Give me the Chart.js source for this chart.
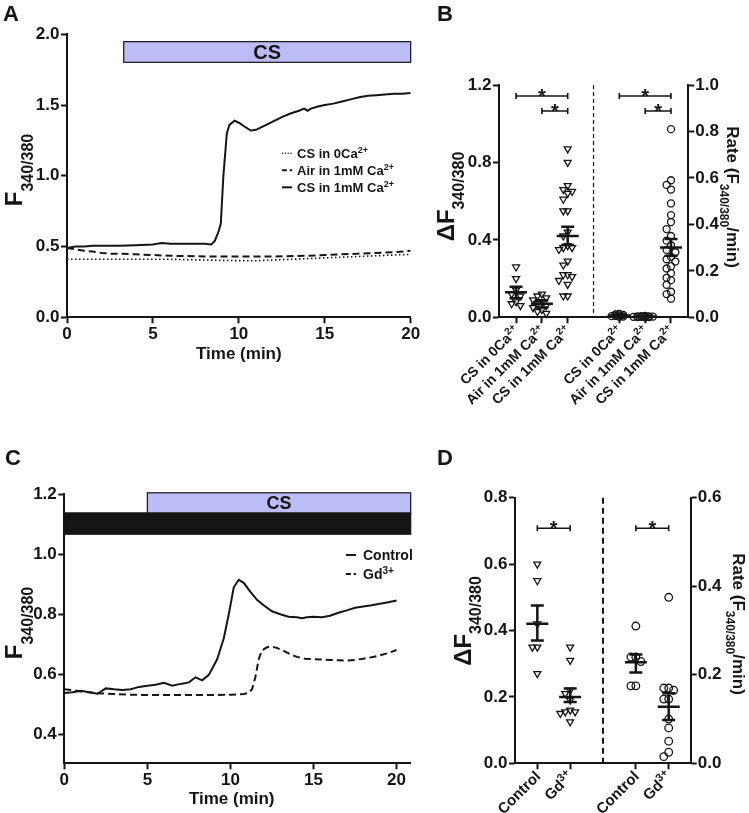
<!DOCTYPE html>
<html>
<head>
<meta charset="utf-8">
<script src="https://cdn.jsdelivr.net/npm/chart.js@4.4.1/dist/chart.umd.min.js"></script>
<style>
  html, body { margin: 0; padding: 0; background: #fff; }
  #fig { position: relative; width: 749px; height: 813px; overflow: hidden; }
  #fig canvas { position: absolute; }
</style>
</head>
<body>
<div id="fig">
  <canvas id="chartA" width="430" height="400" style="left:0;top:0"></canvas>
  <canvas id="chartB" width="329" height="420" style="left:420px;top:0"></canvas>
  <canvas id="chartC" width="430" height="413" style="left:0;top:400px"></canvas>
  <canvas id="chartD" width="329" height="413" style="left:420px;top:400px"></canvas>
</div>
<script>
// ---- Panel A: F340/380 traces (time in min)
const timeA_cs0 = [0, 2, 4, 6, 8, 10, 11, 12, 13, 14, 15, 16, 17, 18, 19, 20];
const ratioA_cs0 = [0.41, 0.41, 0.41, 0.41, 0.405, 0.40, 0.40, 0.405, 0.41, 0.415, 0.42, 0.425, 0.43, 0.435, 0.44, 0.445];
const timeA_air = [0, 0.5, 1, 1.5, 2, 2.5, 3, 4, 5, 6, 8, 10, 12, 14, 15, 16, 17, 18, 19, 20];
const ratioA_air = [0.49, 0.48, 0.47, 0.465, 0.455, 0.45, 0.45, 0.445, 0.44, 0.435, 0.43, 0.43, 0.43, 0.435, 0.44, 0.445, 0.45, 0.455, 0.46, 0.47];
const timeA_cs1 = [0, 0.5, 1, 1.5, 2, 3, 4, 5, 5.5, 6, 7, 8, 8.4, 8.6, 8.8, 8.95, 9.1, 9.3, 9.45, 9.75, 10, 10.3, 10.7, 11, 11.5, 12, 12.5, 13, 13.5, 13.8, 14, 14.2, 14.6, 15, 15.5, 16, 16.5, 17, 17.5, 18, 18.5, 19, 19.5, 20];
const ratioA_cs1 = [0.49, 0.50, 0.50, 0.505, 0.505, 0.505, 0.51, 0.515, 0.525, 0.52, 0.52, 0.52, 0.515, 0.54, 0.60, 0.66, 1.0, 1.30, 1.36, 1.39, 1.375, 1.35, 1.32, 1.325, 1.355, 1.385, 1.415, 1.44, 1.46, 1.475, 1.46, 1.475, 1.49, 1.50, 1.51, 1.525, 1.54, 1.555, 1.565, 1.57, 1.575, 1.58, 1.58, 1.585];
const legendA = ['CS in 0Ca^{2+}', 'Air in 1mM Ca^{2+}', 'CS in 1mM Ca^{2+}'];
const ticksAX = [0, 5, 10, 15, 20];
const ticksAY = [0, 0.5, 1.0, 1.5, 2.0];
const csWindowA = [3.3, 20];

// ---- Panel B: individual cells
const catsB = ['CS in 0Ca^{2+}', 'Air in 1mM Ca^{2+}', 'CS in 1mM Ca^{2+}'];
const dfB_cs0 = [0.26, 0.20, 0.14, 0.12, 0.11, 0.08, 0.07, 0.06];
const dfB_air = [0.12, 0.11, 0.10, 0.09, 0.08, 0.07, 0.06, 0.05, 0.04, 0.03, 0.02];
const dfB_cs1 = [0.87, 0.80, 0.68, 0.66, 0.65, 0.64, 0.61, 0.55, 0.55, 0.44, 0.42, 0.37, 0.36, 0.36, 0.35, 0.29, 0.27, 0.22, 0.22, 0.21, 0.19, 0.17, 0.11, 0.11];
const rateB_cs0 = [0.015, 0.012, 0.01, 0.008, 0.006, 0.005, 0.003, 0.002];
const rateB_air = [0.006, 0.005, 0.004, 0.004, 0.003, 0.003, 0.002, 0.002, 0.001, 0.001, 0.0];
const rateB_cs1 = [0.81, 0.59, 0.57, 0.55, 0.49, 0.44, 0.41, 0.38, 0.35, 0.33, 0.31, 0.29, 0.28, 0.26, 0.25, 0.24, 0.22, 0.21, 0.19, 0.17, 0.16, 0.14, 0.11, 0.10, 0.08];
const meanDfB = [0.13, 0.07, 0.42];
const semHiDfB = [0.158, 0.088, 0.468];
const semLoDfB = [0.098, 0.05, 0.374];
const meanRateB = [0.008, 0.003, 0.30];
const semHiRateB = [0.01, 0.004, 0.337];
const semLoRateB = [0.006, 0.002, 0.265];
const ticksBY = [0, 0.4, 0.8, 1.2];
const ticksBY2 = [0, 0.2, 0.4, 0.6, 0.8, 1.0];

// ---- Panel C: Gd3+ traces
const timeC_ctrl = [0, 0.5, 1, 1.5, 2, 2.5, 3, 3.5, 4, 4.5, 5, 5.5, 6, 6.5, 7, 7.5, 7.9, 8.3, 8.7, 9.2, 9.6, 9.9, 10.2, 10.5, 10.8, 11.2, 11.6, 12, 12.5, 13, 13.5, 14, 14.3, 14.6, 15, 15.5, 16, 16.5, 17, 17.5, 18, 18.5, 19, 19.5, 20];
const ratioC_ctrl = [0.538, 0.54, 0.545, 0.54, 0.535, 0.553, 0.55, 0.548, 0.55, 0.558, 0.562, 0.565, 0.572, 0.562, 0.568, 0.573, 0.59, 0.58, 0.598, 0.65, 0.72, 0.80, 0.89, 0.915, 0.905, 0.875, 0.848, 0.83, 0.81, 0.80, 0.792, 0.79, 0.787, 0.79, 0.792, 0.79, 0.795, 0.805, 0.813, 0.822, 0.826, 0.83, 0.835, 0.84, 0.846];
const timeC_gd = [0, 0.5, 1, 1.5, 2, 3, 4, 5, 6, 7, 8, 9, 10, 10.8, 11.1, 11.3, 11.5, 11.7, 11.9, 12.2, 12.5, 12.8, 13.2, 13.6, 14, 14.5, 15, 15.5, 16, 16.5, 17, 17.5, 18, 18.5, 19, 19.5, 20];
const ratioC_gd = [0.55, 0.547, 0.543, 0.54, 0.537, 0.534, 0.532, 0.531, 0.531, 0.531, 0.531, 0.531, 0.532, 0.534, 0.538, 0.55, 0.59, 0.65, 0.68, 0.69, 0.692, 0.688, 0.678, 0.667, 0.658, 0.652, 0.65, 0.649, 0.648, 0.647, 0.646, 0.648, 0.652, 0.657, 0.663, 0.671, 0.681];
const legendC = ['Control', 'Gd^{3+}'];
const ticksCX = [0, 5, 10, 15, 20];
const ticksCY = [0.4, 0.6, 0.8, 1.0, 1.2];
const csWindowC = [5, 20.85];

// ---- Panel D: individual cells
const catsD = ['Control', 'Gd^{3+}'];
const dfD_ctrl = [0.60, 0.55, 0.42, 0.35, 0.35, 0.27];
const dfD_gd = [0.35, 0.31, 0.22, 0.21, 0.19, 0.16, 0.155, 0.155, 0.15, 0.125];
const rateD_ctrl = [0.31, 0.24, 0.24, 0.23, 0.175, 0.175];
const rateD_gd = [0.375, 0.17, 0.17, 0.165, 0.145, 0.145, 0.1, 0.08, 0.05, 0.025, 0.015];
const meanDfD = [0.42, 0.20];
const semHiDfD = [0.475, 0.225];
const semLoDfD = [0.37, 0.185];
const meanRateD = [0.228, 0.128];
const semHiRateD = [0.246, 0.158];
const semLoRateD = [0.205, 0.098];
const ticksDY = [0, 0.2, 0.4, 0.6, 0.8];
const ticksDY2 = [0, 0.2, 0.4, 0.6];

const INK = '#151515';
const LAV = '#bcbcf6';
const FONT = "'Liberation Sans', Arial, Helvetica, sans-serif";
Chart.defaults.font.family = FONT;
Chart.defaults.color = INK;

const pts = (xs, ys) => xs.map((x, i) => ({ x, y: ys[i] }));

// spread overlapping dots sideways
function swarm(center, vals, gap, step) {
    const placed = [];
    return vals.map(v => {
        let k = 0;
        for (const c of [0, -1, 1, -2, 2, -3, 3, -4, 4]) {
            if (!placed.some(p => p.k === c && Math.abs(p.y - v) < gap)) { k = c; break; }
        }
        placed.push({ k, y: v });
        return { x: center + k * step, y: v };
    });
}

// text with ^{sup} and _{sub}
function segs(str) {
    const out = [];
    const re = /([\^_])\{([^}]*)\}/g;
    let last = 0, m;
    while ((m = re.exec(str))) {
        if (m.index > last) out.push({ t: str.slice(last, m.index), k: 'n' });
        out.push({ t: m[2], k: m[1] === '^' ? 'sup' : 'sub' });
        last = re.lastIndex;
    }
    if (last < str.length) out.push({ t: str.slice(last), k: 'n' });
    return out;
}

function rich(ctx, str, x, y, o) {
    const size = o.size, small = o.small || Math.round(size * 0.68);
    const parts = segs(str).map(p => {
        const sz = p.k === 'n' ? size : small;
        ctx.font = `bold ${sz}px ${FONT}`;
        return { ...p, sz, w: ctx.measureText(p.t).width };
    });
    const total = parts.reduce((s, p) => s + p.w, 0);
    let cx = o.align === 'center' ? -total / 2 : o.align === 'right' ? -total : 0;
    ctx.save();
    ctx.translate(x, y);
    if (o.rot) ctx.rotate(o.rot);
    ctx.fillStyle = INK;
    ctx.textBaseline = 'alphabetic';
    ctx.textAlign = 'left';
    for (const p of parts) {
        ctx.font = `bold ${p.sz}px ${FONT}`;
        const dy = p.k === 'sub' ? (o.subDy ?? size * 0.4) : p.k === 'sup' ? -(o.supDy ?? size * 0.4) : 0;
        ctx.fillText(p.t, cx, dy);
        cx += p.w;
    }
    ctx.restore();
}

function linAxis(o) {
    return {
        type: 'linear', position: o.position, min: o.min, max: o.max,
        afterBuildTicks: s => { s.ticks = o.ticks.map(v => ({ value: v })); },
        afterFit: s => {
            if (o.width != null) s.width = o.width;
            if (o.height != null) s.height = o.height;
            s.paddingLeft = s.paddingRight = s.paddingTop = s.paddingBottom = 0;
        },
        ticks: {
            display: o.labels !== false, padding: o.pad ?? 1.5, color: INK,
            font: { size: 17, weight: 'bold' },
            callback: o.fmt || (v => v.toFixed(1))
        },
        grid: { drawOnChartArea: false, drawTicks: true, tickLength: 6, tickWidth: 2, tickColor: INK },
        border: { display: true, color: INK, width: 2 }
    };
}

function baseOptions(pad, scales) {
    return {
        responsive: false, animation: false, devicePixelRatio: 1, events: [],
        layout: { padding: pad },
        plugins: { legend: { display: false }, tooltip: { enabled: false } },
        scales
    };
}

function stimBar(ctx, x, y, t0, t1, v0, v1, fill, label, size) {
    const px0 = x.getPixelForValue(t0), px1 = x.getPixelForValue(t1);
    const py0 = y.getPixelForValue(v1), py1 = y.getPixelForValue(v0);
    ctx.save();
    ctx.fillStyle = fill;
    ctx.fillRect(px0, py0, px1 - px0, py1 - py0);
    ctx.strokeStyle = INK;
    ctx.lineWidth = 1.2;
    ctx.strokeRect(px0, py0, px1 - px0, py1 - py0);
    ctx.restore();
    if (label) rich(ctx, label, (px0 + px1) / 2, (py0 + py1) / 2 + size * 0.36, { size, align: 'center' });
}

function legendRows(ctx, datasets, labels, x0, y0, dy, size, gapText) {
    labels.forEach((lab, i) => {
        const ds = datasets[i], yy = y0 + i * dy;
        ctx.save();
        ctx.strokeStyle = INK;
        ctx.lineWidth = ds.borderWidth;
        ctx.setLineDash((ds.borderDash || []).map(d => d * 0.7));
        ctx.beginPath();
        ctx.moveTo(x0, yy - size * 0.36);
        ctx.lineTo(x0 + 10, yy - size * 0.36);
        ctx.stroke();
        ctx.restore();
        rich(ctx, lab, x0 + gapText, yy, { size, small: Math.round(size * 0.7), supDy: size * 0.38 });
    });
}

function traceSet(xs, ys, dash, width) {
    return {
        data: pts(xs, ys), showLine: true, pointRadius: 0, borderColor: INK,
        borderWidth: width, borderDash: dash, tension: 0, fill: false
    };
}

// means, SEM, divider, brackets, rotated category labels
function dotExtras(c) {
    return {
        id: 'dotExtras',
        afterDraw(chart) {
            const { ctx, chartArea: a, scales } = chart;
            const x = scales.x;
            ctx.save();
            ctx.strokeStyle = INK;
            ctx.lineWidth = c.divWidth;
            ctx.setLineDash(c.divDash);
            const dx = x.getPixelForValue(c.divider);
            ctx.beginPath(); ctx.moveTo(dx, a.top); ctx.lineTo(dx, a.bottom); ctx.stroke();
            ctx.setLineDash([]);
            ctx.lineWidth = 2.5;
            c.pos.forEach((p, i) => {
                const y = scales[c.axes[i]];
                const px = x.getPixelForValue(p);
                const m = y.getPixelForValue(c.mean[i]), hi = y.getPixelForValue(c.hi[i]), lo = y.getPixelForValue(c.lo[i]);
                ctx.beginPath();
                ctx.moveTo(px - 11, m); ctx.lineTo(px + 11, m);
                ctx.moveTo(px, hi); ctx.lineTo(px, lo);
                ctx.moveTo(px - 6.5, hi); ctx.lineTo(px + 6.5, hi);
                ctx.moveTo(px - 6.5, lo); ctx.lineTo(px + 6.5, lo);
                ctx.stroke();
            });
            ctx.lineWidth = 1.6;
            c.sigFrom.forEach((f, i) => {
                const x0 = x.getPixelForValue(f), x1 = x.getPixelForValue(c.sigTo[i]);
                const yb = scales.y.getPixelForValue(c.sigY[i]);
                ctx.beginPath();
                ctx.moveTo(x0, yb); ctx.lineTo(x1, yb);
                ctx.moveTo(x0, yb - 3); ctx.lineTo(x0, yb + 3);
                ctx.moveTo(x1, yb - 3); ctx.lineTo(x1, yb + 3);
                ctx.stroke();
                rich(ctx, '*', (x0 + x1) / 2, yb + 7, { size: 20, align: 'center' });
            });
            ctx.restore();
            c.pos.forEach((p, i) => {
                rich(ctx, c.labels[i], x.getPixelForValue(p) + 4, a.bottom + 14,
                    { size: c.labelSize, small: Math.round(c.labelSize * 0.7), supDy: c.labelSize * 0.38, align: 'right', rot: -Math.PI / 4 });
            });
            rich(ctx, 'ΔF_{340/380}', c.leftTitle[0], c.leftTitle[1], { size: 24, small: 16, subDy: 10, align: 'center', rot: -Math.PI / 2 });
            rich(ctx, 'Rate (F_{340/380}/min)', c.rightTitle[0], c.rightTitle[1], { size: 17, small: 12, subDy: 7, align: 'center', rot: Math.PI / 2 });
            rich(ctx, c.letter, 17, c.letterY, { size: 22 });
        }
    };
}

function dotSet(data, axis, style, r) {
    return {
        data, yAxisID: axis, pointStyle: style, rotation: style === 'triangle' ? 180 : 0,
        pointRadius: r, borderWidth: 1.3, borderColor: INK, backgroundColor: 'rgba(0,0,0,0)',
        showLine: false, clip: false
    };
}

// ---- A
new Chart(document.getElementById('chartA'), {
    type: 'scatter',
    data: {
        datasets: [
            traceSet(timeA_cs0, ratioA_cs0, [1.5, 2.5], 1.6),
            traceSet(timeA_air, ratioA_air, [7, 4], 2),
            traceSet(timeA_cs1, ratioA_cs1, [], 2)
        ]
    },
    options: baseOptions({ left: 0, top: 34.3, right: 19.3, bottom: 0 }, {
        x: linAxis({ position: 'bottom', min: 0, max: 20, ticks: ticksAX, height: 82.7, pad: 1, fmt: v => String(v) }),
        y: linAxis({ position: 'left', min: 0, max: 2, ticks: ticksAY, width: 67 })
    }),
    plugins: [{
        id: 'extrasA',
        afterDraw(chart) {
            const { ctx, chartArea: a, scales: { x, y } } = chart;
            stimBar(ctx, x, y, csWindowA[0], csWindowA[1], 1.802, 1.948, LAV, 'CS', 20);
            legendRows(ctx, chart.data.datasets, legendA, 282, 158, 17, 13, 15);
            rich(ctx, 'Time (min)', (a.left + a.right) / 2, a.bottom + 42, { size: 17, align: 'center' });
            rich(ctx, 'F_{340/380}', 22, 170, { size: 24, small: 16, subDy: 11, align: 'center', rot: -Math.PI / 2 });
            rich(ctx, 'A', 3, 21, { size: 22 });
        }
    }]
});

// ---- B
const posB = [1, 2, 3, 5, 6, 7];
new Chart(document.getElementById('chartB'), {
    type: 'scatter',
    data: {
        datasets: [
            dotSet(swarm(1, dfB_cs0, 0.035, 0.17), 'y', 'triangle', 4),
            dotSet(swarm(2, dfB_air, 0.035, 0.17), 'y', 'triangle', 4),
            dotSet(swarm(3, dfB_cs1, 0.035, 0.17), 'y', 'triangle', 4),
            dotSet(swarm(5, rateB_cs0, 0.006, 0.15), 'y2', 'circle', 3.5),
            dotSet(swarm(6, rateB_air, 0.003, 0.15), 'y2', 'circle', 3.5),
            dotSet(swarm(7, rateB_cs1, 0.03, 0.17), 'y2', 'circle', 3.5)
        ]
    },
    options: baseOptions({ left: 0, top: 85, right: 0, bottom: 0 }, {
        x: linAxis({ position: 'bottom', min: 0.34, max: 7.67, ticks: posB, height: 102.7, labels: false }),
        y: linAxis({ position: 'left', min: 0, max: 1.2, ticks: ticksBY, width: 79 }),
        y2: linAxis({ position: 'right', min: 0, max: 1.0, ticks: ticksBY2, width: 60.7, pad: 1 })
    }),
    plugins: [dotExtras({
        pos: posB, axes: ['y', 'y', 'y', 'y2', 'y2', 'y2'],
        mean: [...meanDfB, ...meanRateB], hi: [...semHiDfB, ...semHiRateB], lo: [...semLoDfB, ...semLoRateB],
        divider: 4, divDash: [4, 3], divWidth: 1.2,
        sigFrom: [1, 2, 5, 6], sigTo: [3, 3, 7, 7], sigY: [1.143, 1.066, 1.143, 1.066],
        labels: [...catsB, ...catsB], labelSize: 14,
        leftTitle: [34, 196.5], rightTitle: [307, 197], letter: 'B', letterY: 21
    })]
});

// ---- C
new Chart(document.getElementById('chartC'), {
    type: 'scatter',
    data: {
        datasets: [
            traceSet(timeC_ctrl, ratioC_ctrl, [], 2),
            traceSet(timeC_gd, ratioC_gd, [7, 4], 2)
        ]
    },
    options: baseOptions({ left: 0, top: 94.3, right: 19.3, bottom: 0 }, {
        x: linAxis({ position: 'bottom', min: 0, max: 20.85, ticks: ticksCX, height: 49.7, pad: 1, fmt: v => String(v) }),
        y: linAxis({ position: 'left', min: 0.3033, max: 1.2, ticks: ticksCY, width: 64.3 })
    }),
    plugins: [{
        id: 'extrasC',
        afterDraw(chart) {
            const { ctx, chartArea: a, scales: { x, y } } = chart;
            stimBar(ctx, x, y, 0, 20.85, 1.067, 1.138, INK, null, 0);
            stimBar(ctx, x, y, csWindowC[0], csWindowC[1], 1.138, 1.205, LAV, 'CS', 18);
            legendRows(ctx, chart.data.datasets, legendC, 346, 160, 19, 14, 17);
            rich(ctx, 'Time (min)', 231.7, a.bottom + 41, { size: 17, align: 'center' });
            rich(ctx, 'F_{340/380}', 22, 223, { size: 24, small: 16, subDy: 11, align: 'center', rot: -Math.PI / 2 });
            rich(ctx, 'C', 5, 65, { size: 22 });
        }
    }]
});

// ---- D
const posD = [1, 2, 4, 5];
new Chart(document.getElementById('chartD'), {
    type: 'scatter',
    data: {
        datasets: [
            dotSet(swarm(1, dfD_ctrl, 0.02, 0.15), 'y', 'triangle', 4),
            dotSet(swarm(2, dfD_gd, 0.02, 0.15), 'y', 'triangle', 4),
            dotSet(swarm(4, rateD_ctrl, 0.016, 0.15), 'y2', 'circle', 3.8),
            dotSet(swarm(5, rateD_gd, 0.016, 0.15), 'y2', 'circle', 3.8)
        ]
    },
    options: baseOptions({ left: 0, top: 97.7, right: 0, bottom: 0 }, {
        x: linAxis({ position: 'bottom', min: 0.32, max: 5.67, ticks: posD, height: 49.7, labels: false }),
        y: linAxis({ position: 'left', min: 0, max: 0.8, ticks: ticksDY, width: 95 }),
        y2: linAxis({ position: 'right', min: 0, max: 0.6, ticks: ticksDY2, width: 58.3, pad: 1 })
    }),
    plugins: [dotExtras({
        pos: posD, axes: ['y', 'y', 'y2', 'y2'],
        mean: [...meanDfD, ...meanRateD], hi: [...semHiDfD, ...semHiRateD], lo: [...semLoDfD, ...semLoRateD],
        divider: 3, divDash: [6, 4], divWidth: 2,
        sigFrom: [1, 4], sigTo: [2, 5], sigY: [0.708, 0.708],
        labels: [...catsD, ...catsD], labelSize: 15,
        leftTitle: [51, 221], rightTitle: [313, 224], letter: 'D', letterY: 65
    })]
});
</script>
</body>
</html>
